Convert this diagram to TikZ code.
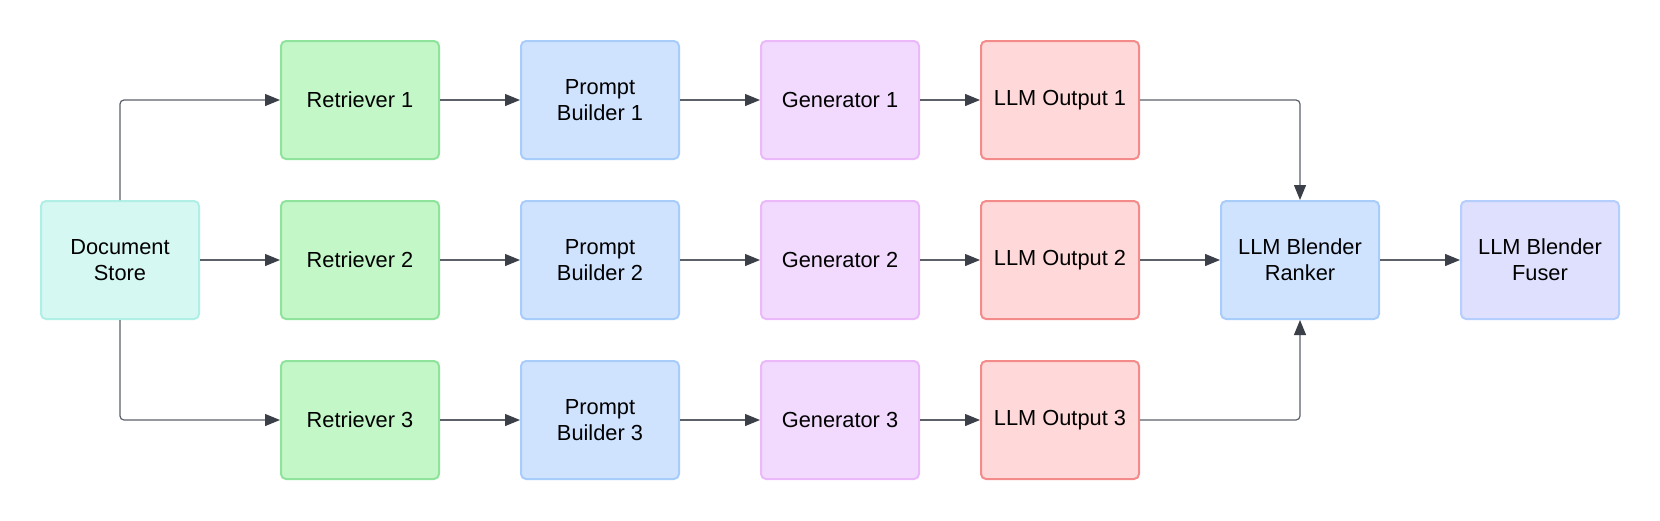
\documentclass[tikz,border=0pt]{standalone}
\usepackage{fontspec}
\setmainfont{Liberation Sans}
\usetikzlibrary{arrows.meta}
\definecolor{dsfill}{HTML}{D6F8F2}\definecolor{dsline}{HTML}{AFEFE5}
\definecolor{rtfill}{HTML}{C3F7C8}\definecolor{rtline}{HTML}{8FE39B}
\definecolor{pbfill}{HTML}{CFE3FF}\definecolor{pbline}{HTML}{A9CDFB}
\definecolor{gnfill}{HTML}{F2D9FE}\definecolor{gnline}{HTML}{EBB9FA}
\definecolor{oufill}{HTML}{FFD9D9}\definecolor{ouline}{HTML}{F38B8B}
\definecolor{fufill}{HTML}{DFDFFE}\definecolor{fuline}{HTML}{B4CFFD}
\definecolor{conn}{HTML}{5B6069}\definecolor{tipc}{HTML}{3B3F48}
\tikzset{
  x=1pt,y=-1pt,
  box/.style={rectangle,rounded corners=5pt,line width=2pt,minimum width=158pt,minimum height=118pt,
    align=center,inner sep=0pt,font=\fontsize{21.8}{26}\selectfont},
  ds/.style={box,fill=dsfill,draw=dsline},
  rt/.style={box,fill=rtfill,draw=rtline},
  pb/.style={box,fill=pbfill,draw=pbline},
  gn/.style={box,fill=gnfill,draw=gnline},
  ou/.style={box,fill=oufill,draw=ouline},
  fu/.style={box,fill=fufill,draw=fuline},
  conn/.style={draw=conn,line width=1.2pt,rounded corners=4pt,
    -{Triangle[length=15pt,width=12pt,color=tipc]}},
}
\begin{document}
\begin{tikzpicture}
\useasboundingbox[fill=white] (0,0) rectangle (1660,520);
\node[ds] (ds) at (120,260) {Document\\Store};
\foreach \i/\y in {1/100,2/260,3/420}{
  \node[rt] (r\i) at (360,\y) {Retriever \i};
  \node[pb] (p\i) at (600,\y) {Prompt\\Builder \i};
  \node[gn] (g\i) at (840,\y) {Generator \i};
  \node[ou] (o\i) at (1060,\y) {LLM Output \i};
  \draw[conn] (r\i) -- (p\i);
  \draw[conn] (p\i) -- (g\i);
  \draw[conn] (g\i) -- (o\i);
}
\node[pb] (rk) at (1300,260) {LLM Blender\\Ranker};
\node[fu] (fu) at (1540,260) {LLM Blender\\Fuser};
\draw[conn] (ds.north) |- (r1.west);
\draw[conn] (ds) -- (r2);
\draw[conn] (ds.south) |- (r3.west);
\draw[conn] (o1.east) -| (rk.north);
\draw[conn] (o2) -- (rk);
\draw[conn] (o3.east) -| (rk.south);
\draw[conn] (rk) -- (fu);
\end{tikzpicture}
\end{document}
